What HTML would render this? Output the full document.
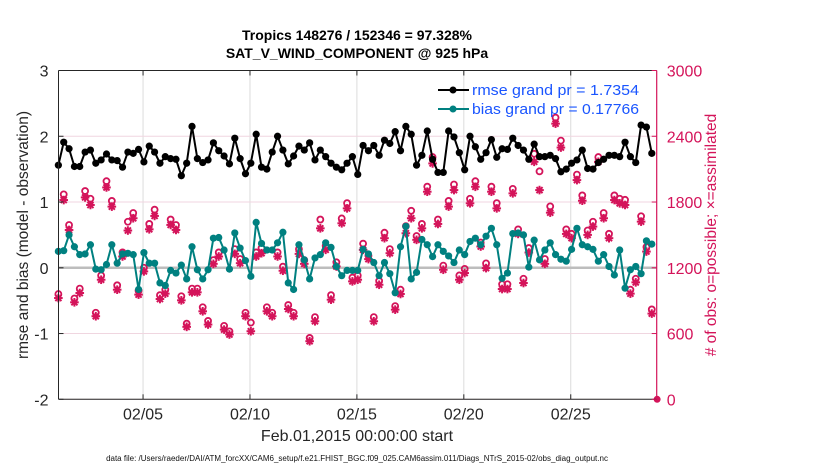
<!DOCTYPE html>
<html><head><meta charset="utf-8">
<style>
body{margin:0;background:#fff;}
svg{display:block;font-family:"Liberation Sans",sans-serif;}
</style></head>
<body>
<svg id="chart" width="830" height="470" viewBox="0 0 830 470">
  <text x="357" y="40" text-anchor="middle" font-size="14" font-weight="bold">Tropics 148276 / 152346 = 97.328%</text>
  <text x="357" y="58" text-anchor="middle" font-size="14" font-weight="bold">SAT_V_WIND_COMPONENT @ 925 hPa</text>
  <g id="grid"></g>
  <g id="series"></g>
  <g id="axes"></g>
  <text x="0" y="0" transform="translate(28,235) rotate(-90)" text-anchor="middle" font-size="15.5" fill="#262626">rmse and bias (model - observation)</text>
  <text x="0" y="0" transform="translate(716,235) rotate(-90)" text-anchor="middle" font-size="15.5" fill="#d4145a"># of obs: o=possible; ×=assimilated</text>
  <text x="357" y="441" text-anchor="middle" font-size="16" fill="#262626">Feb.01,2015 00:00:00 start</text>
  <text x="357" y="461" text-anchor="middle" font-size="8" fill="#111">data file: /Users/raeder/DAI/ATM_forcXX/CAM6_setup/f.e21.FHIST_BGC.f09_025.CAM6assim.011/Diags_NTrS_2015-02/obs_diag_output.nc</text>
  <g id="legend"></g>
</svg>
<script>
const rmse = [1.56,1.91,1.81,1.54,1.54,1.76,1.79,1.59,1.64,1.73,1.64,1.63,1.53,1.76,1.74,1.80,1.61,1.85,1.76,1.59,1.69,1.66,1.65,1.40,1.59,2.15,1.66,1.60,1.64,
1.90,1.78,1.70,1.58,1.97,1.66,1.43,1.59,2.03,1.53,1.50,1.76,2.00,1.79,1.58,1.70,1.85,1.79,1.90,1.64,1.79,1.69,1.59,1.53,1.49,1.59,1.69,1.42,
1.86,1.78,1.86,1.71,1.94,1.89,2.07,1.78,2.15,2.03,1.56,1.71,2.08,1.65,1.45,1.45,2.08,1.99,1.75,1.49,2.00,1.84,1.65,1.75,1.95,1.68,1.81,1.80,
1.97,1.86,1.79,1.65,1.88,1.69,1.69,1.71,1.66,1.46,1.50,1.59,1.64,1.79,1.51,1.50,1.60,1.65,1.71,1.71,1.69,1.91,1.69,1.60,2.17,2.14,1.74,null];
const bias = [0.25,0.26,0.50,0.32,0.20,0.21,0.35,-0.02,-0.03,0.05,0.35,0.07,0.21,0.22,0.20,-0.33,0.23,0.07,0.07,-0.23,-0.27,-0.04,-0.08,0.04,-0.17,0.32,-0.03,-0.17,-0.03,
0.45,0.46,0.27,-0.02,0.53,0.30,0.11,-0.13,0.69,0.37,0.27,0.27,0.38,0.54,-0.23,-0.33,0.35,0.12,-0.17,0.15,0.20,0.38,0.31,0.02,-0.12,-0.04,-0.04,-0.04,
0.28,0.21,0.08,-0.12,0.08,-0.09,-0.38,0.32,0.63,-0.17,-0.07,0.43,0.35,0.17,0.35,0.25,0.18,0.08,0.27,0.20,0.40,0.45,0.35,0.48,0.60,0.35,-0.16,-0.08,
0.52,0.53,0.50,0.01,0.42,0.12,0.27,0.38,0.20,0.13,0.10,0.28,0.60,0.35,0.32,0.28,0.10,0.20,0.02,-0.11,0.27,-0.31,-0.03,0.02,-0.09,0.41,0.36,null];
const nAssim = [924,1818,1545,885,970,1842,1773,758,1091,1933,1758,1000,1303,1540,1652,955,1167,1551,1673,915,964,1591,1545,903,661,976,976,803,682,
1236,1303,636,591,1327,1242,758,621,1303,1333,803,758,1303,1173,824,758,1327,1236,530,712,1560,1364,909,1212,1606,1742,1076,1091,
1364,1279,712,1045,1470,1333,818,961,1515,1652,1455,1560,1894,2152,1600,1182,1758,1909,1091,1152,1788,1939,1394,1197,1894,1742,1006,1006,
1879,1509,1061,1339,2167,1909,1236,1703,2515,2297,1509,1470,2000,1812,1500,1576,2167,1652,1470,1818,1788,1773,964,1067,1621,1348,782,0];
const nPoss = [960,1870,1590,920,1010,1900,1830,790,1130,1990,1810,1040,1340,1620,1700,990,1200,1600,1730,950,1000,1640,1590,940,690,1010,1010,840,715,
1270,1340,670,620,1370,1280,790,700,1340,1380,840,790,1340,1210,860,790,1370,1270,560,750,1640,1400,950,1250,1650,1790,1110,1130,
1420,1310,750,1080,1520,1370,850,1000,1580,1720,1490,1600,1940,2210,1640,1220,1810,1960,1130,1190,1830,1990,1430,1240,1940,1790,1050,1050,
1920,1550,1100,1380,2240,2080,1280,1760,2570,2360,1550,1510,2050,1860,1540,1620,2210,1700,1510,1860,1830,1820,1000,1100,1670,1390,820,0];
const xTickLabels = ["02/05","02/10","02/15","02/20","02/25"];
const xTickDays = [4,9,14,19,24];
const yLeftTicks = [-2,-1,0,1,2,3];
const yRightTicks = [0,600,1200,1800,2400,3000];

const NS="http://www.w3.org/2000/svg";
const L=58.5,R=656.7,T=70.5,B=399.3;
const dayMin=0.046, dayMax=28.02;
function xScale(d){return L+(d-dayMin)/(dayMax-dayMin)*(R-L);}
function dayOf(i){return 0.04+0.25*i;}
function yL(v){return B-(v+2)/5*(B-T);}
function yR(v){return B-v/3000*(B-T);}
const PINK="#d4145a";
function mk(tag,attrs,parent){const e=document.createElementNS(NS,tag);for(const k in attrs)e.setAttribute(k,attrs[k]);parent.appendChild(e);return e;}
const grid=document.getElementById('grid'),ser=document.getElementById('series'),axes=document.getElementById('axes'),leg=document.getElementById('legend');

xTickDays.forEach((d,i)=>{const x=xScale(d);
  const g=mk('line',{x1:x,x2:x,y1:T,y2:B,stroke:'#dcdcdc','stroke-width':1},grid);
  
  
});
yRightTicks.forEach(v=>{const y=yR(v);
  const g=mk('line',{x1:L,x2:R,y1:y,y2:y,stroke:'#f0d6e0','stroke-width':1},grid);
  
  
});
const zl=mk('line',{x1:L,x2:R,y1:yL(0),y2:yL(0),stroke:'#bdbdbd','stroke-width':2.5},grid);



nPoss.forEach((v,i)=>{if(v<=0)return;const x=xScale(dayOf(i)),y=yR(v);
  const c=mk('circle',{cx:x,cy:y,r:3,fill:'none',stroke:PINK,'stroke-width':1.8},ser);
  
  
});
nAssim.forEach((v,i)=>{const x=xScale(dayOf(i)),y=yR(v);
  const g=mk('g',{},ser);
  
  
  if(v<=0){mk('circle',{cx:x,cy:y,r:3.5,fill:PINK},g);return;}
  const r=4.3;
  for(let a=0;a<4;a++){const t=a*Math.PI/4;
    mk('line',{x1:x-r*Math.cos(t),y1:y-r*Math.sin(t),x2:x+r*Math.cos(t),y2:y+r*Math.sin(t),stroke:PINK,'stroke-width':2},g);}
  mk('circle',{cx:x,cy:y,r:2.3,fill:PINK},g);
});

function drawLine(arr,color,name){
  let d='';arr.forEach((v,i)=>{if(v==null)return;d+=(d?'L':'M')+xScale(dayOf(i)).toFixed(2)+','+yL(v).toFixed(2);});
  const p=mk('path',{d:d,fill:'none',stroke:color,'stroke-width':2,'stroke-linejoin':'round'},ser);
  
  
  arr.forEach((v,i)=>{if(v==null)return;
    const c=mk('circle',{cx:xScale(dayOf(i)),cy:yL(v),r:3.6,fill:color},ser);
    
    
  });
}
drawLine(bias,'#008080','bias');
drawLine(rmse,'#000000','rmse');

// legend (drawn on top of series)
[["rmse grand pr = 1.7354","#000",90,'legend-rmse'],["bias grand pr = 0.17766","#008080",109,'legend-bias']].forEach(e=>{
  mk('line',{x1:438,x2:469,y1:e[2],y2:e[2],stroke:e[1],'stroke-width':2},leg);
  const c=mk('circle',{cx:453,cy:e[2],r:3.5,fill:e[1]},leg);
  
  
  const t=mk('text',{x:472,y:e[2]+5,'font-size':15,fill:'#1a55ff',textLength:167,lengthAdjust:'spacingAndGlyphs'},leg);
  t.textContent=e[0];
  
  
});

const ab=mk('line',{x1:L,x2:R,y1:B,y2:B,stroke:'#262626','stroke-width':1},axes);


const at=mk('line',{x1:L,x2:R,y1:T,y2:T,stroke:'#262626','stroke-width':1},axes);


const al=mk('line',{x1:L,x2:L,y1:T,y2:B,stroke:'#262626','stroke-width':1},axes);


const ar=mk('line',{x1:R,x2:R,y1:T,y2:B,stroke:PINK,'stroke-width':1.2},axes);



xTickDays.forEach((d,i)=>{const x=xScale(d);
  mk('line',{x1:x,x2:x,y1:B,y2:B-5,stroke:'#262626'},axes);
  mk('line',{x1:x,x2:x,y1:T,y2:T+5,stroke:'#262626'},axes);
  const t=mk('text',{x:x,y:B+20,'text-anchor':'middle','font-size':16,fill:'#262626'},axes);
  t.textContent=xTickLabels[i];
  
  
});
yLeftTicks.forEach(v=>{const y=yL(v);
  mk('line',{x1:L,x2:L+5,y1:y,y2:y,stroke:'#262626'},axes);
  const t=mk('text',{x:L-10,y:y+6,'text-anchor':'end','font-size':16,fill:'#262626'},axes);
  t.textContent=String(v);
  
  
});
yRightTicks.forEach(v=>{const y=yR(v);
  mk('line',{x1:R,x2:R-5,y1:y,y2:y,stroke:PINK},axes);
  const t=mk('text',{x:R+10,y:y+6,'text-anchor':'start','font-size':16,fill:PINK},axes);
  t.textContent=String(v);
  
  
});
</script>
</body></html>
